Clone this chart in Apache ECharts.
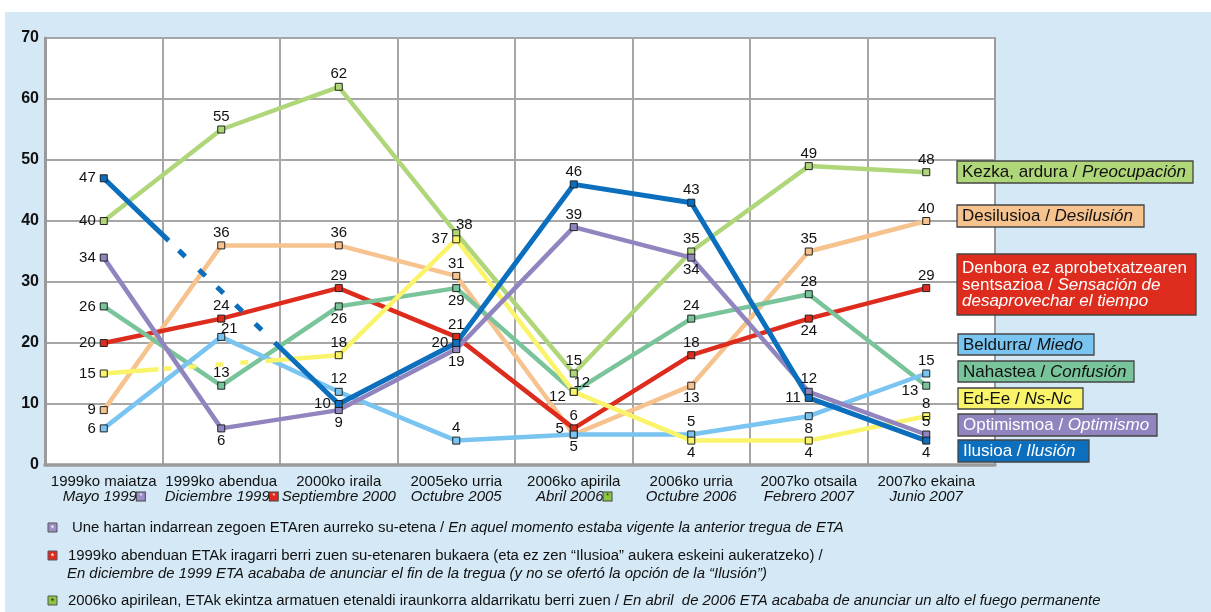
<!DOCTYPE html>
<html><head><meta charset="utf-8">
<script src="https://cdn.jsdelivr.net/npm/echarts@6/dist/echarts.min.js"></script>
<style>html,body{margin:0;padding:0;background:#fff;}#c{width:1211px;height:612px;}</style>
</head><body><div id="c"></div>
<script>
// ---------- DATA ----------
const categoriesEu = ['1999ko maiatza','1999ko abendua','2000ko iraila','2005eko urria','2006ko apirila','2006ko urria','2007ko otsaila','2007ko ekaina'];
const categoriesEs = ['Mayo 1999','Diciembre 1999','Septiembre 2000','Octubre 2005','Abril 2006','Octubre 2006','Febrero 2007','Junio 2007'];
const categoryNotes = ['m1','m2','','','m3','','',''];

const preocupacion  = [40,55,62,38,15,35,49,48];
const desilusion    = [9,36,36,31,5,13,35,40];
const desaprovechar = [20,24,29,21,6,18,24,29];
const miedo         = [6,21,12,4,5,5,8,15];
const confusion     = [26,13,26,29,12,24,28,13];
const nsnc          = [15,null,18,37,12,4,4,8];
const optimismo     = [34,6,9,19,39,34,12,5];
const ilusion       = [47,null,10,20,46,43,11,4];

const legendTexts = [
  [['n','Kezka, ardura / '],['i','Preocupación']],
  [['n','Desilusioa / '],['i','Desilusión']],
  [['n','Denbora ez aprobetxatzearen'],['br',''],['n','sentsazioa / '],['i','Sensación de'],['br',''],['i','desaprovechar el tiempo']],
  [['n','Beldurra/ '],['i','Miedo']],
  [['n','Nahastea / '],['i','Confusión']],
  [['n','Ed-Ee / '],['i','Ns-Nc']],
  [['n','Optimismoa / '],['i','Optimismo']],
  [['n','Ilusioa / '],['i','Ilusión']]
];
const footnoteTexts = [
  [['Une hartan indarrean zegoen ETAren aurreko su-etena / ','En aquel momento estaba vigente la anterior tregua de ETA']],
  [['1999ko abenduan ETAk iragarri berri zuen su-etenaren bukaera (eta ez zen “Ilusioa” aukera eskeini aukeratzeko) /','']],
  [['','En diciembre de 1999 ETA acababa de anunciar el fin de la tregua (y no se ofertó la opción de la “Ilusión”)']],
  [['2006ko apirilean, ETAk ekintza armatuen etenaldi iraunkorra aldarrikatu berri zuen / ','En abril  de 2006 ETA acababa de anunciar un alto el fuego permanente']]
];

// ---------- STYLE / LAYOUT ----------
const FONT = '"Liberation Sans", Arial, Helvetica, sans-serif';
const C = {
  preocupacion:'#b0d67a', desilusion:'#f6c28e', desaprovechar:'#dd2c1d', miedo:'#79c4f0',
  confusion:'#79c49b', nsnc:'#faf46a', optimismo:'#9184bf', ilusion:'#0b6fbe'
};
const labelPlacement = {
  preocupacion:  ['l','t','t','tr','t','t','t','t'],
  desilusion:    ['l','t','t','t','lt','b','t','t'],
  desaprovechar: ['l','t','t','t','t','t','b','t'],
  miedo:         ['l','tr','t','t','b','t','b','t'],
  confusion:     ['l','t','b','b','tr','t','t','lb'],
  nsnc:          ['l','','t','l','lb','b','b','t'],
  optimismo:     ['l','b','b','b','t','b','t','t'],
  ilusion:       ['l','','l','l','t','t','l','b']
};
const noteColors = {m1:'#9b8dc8', m2:'#e02a1e', m3:'#8cc63f'};

function lbl(code){
  switch(code){
    case 'l':  return {position:'left', distance:4};
    case 't':  return {position:'top', distance:1};
    case 'b':  return {position:'bottom', distance:1};
    case 'tr': return {position:'top', distance:1, offset:[8,4]};
    case 'lb': return {position:'left', distance:4, offset:[0,5]};
    case 'lt': return {position:'left', distance:4, offset:[-2,-6]};
  }
  return {};
}
function makeSeries(key, name, values, width){
  const color = C[key];
  return {
    type:'line', name, xAxisIndex:1, yAxisIndex:1,
    data: values.map((v,i)=> v==null ? null : {value:v, label:lbl(labelPlacement[key][i])}),
    connectNulls:false, symbol:'rect', symbolSize:7,
    lineStyle:{color, width},
    itemStyle:{color, borderColor:'#222', borderWidth:1},
    label:{show:true, fontSize:15, fontFamily:FONT, color:'#111'},
    emphasis:{disabled:true}
  };
}
function makeBridge(key, values, dash, width){
  return {
    type:'line', xAxisIndex:1, yAxisIndex:1,
    data: values.map((v,i)=> i<=2 ? v : null),
    connectNulls:true, symbol:'none', silent:true,
    lineStyle:{color:C[key], width, type:dash, cap:'butt'},
    label:{show:false}, emphasis:{disabled:true}
  };
}

const noteRich = {};
Object.keys(noteColors).forEach(k=>{
  noteRich[k] = {backgroundColor:noteColors[k], borderColor:'#444', borderWidth:1, width:8, height:8,
    fontSize:7, lineHeight:9, color: k==='m3' ? '#222' : '#fff', align:'center'};
});

// legend boxes
const legendBoxes = [
  {key:'preocupacion', x:957, y:161, w:236, h:22, fg:'#111'},
  {key:'desilusion',   x:957, y:205, w:187, h:22, fg:'#111'},
  {key:'desaprovechar',x:957, y:254, w:239, h:61, fg:'#fff'},
  {key:'miedo',        x:958, y:334, w:136, h:21, fg:'#111'},
  {key:'confusion',    x:958, y:361, w:176, h:21, fg:'#111'},
  {key:'nsnc',         x:958, y:388, w:125, h:21, fg:'#111'},
  {key:'optimismo',    x:958, y:414, w:199, h:22, fg:'#fff'},
  {key:'ilusion',      x:958, y:440, w:131, h:22, fg:'#fff'}
];
const graphics = [];
graphics.push({type:'rect', z:-100, silent:true, shape:{x:5,y:12,width:1206,height:600}, style:{fill:'#d4e8f6'}});
legendBoxes.forEach((b,idx)=>{
  const parts = legendTexts[idx];
  let txt = '';
  parts.forEach(p=>{ txt += p[0]==='br' ? '\n' : '{'+p[0]+'|'+p[1]+'}'; });
  graphics.push({type:'rect', z:100, silent:true, shape:{x:b.x,y:b.y,width:b.w,height:b.h},
    style:{fill:C[b.key], stroke:'#444', lineWidth:1.3}});
  graphics.push({type:'text', z:101, silent:true, x:b.x+5, y:b.y+b.h/2+0.5,
    style:{text:txt, fill:b.fg, fontSize:17, fontFamily:FONT, verticalAlign:'middle', textVerticalAlign:'middle',
      rich:{n:{fontSize:17, fontFamily:FONT, fill:b.fg, lineHeight:16.5},
            i:{fontSize:17, fontFamily:FONT, fontStyle:'italic', fill:b.fg, lineHeight:16.5}}}});
});
// footnotes
const FN = 14.9;
const footLayout = [
  {x:72, y:528, note:'m1'},
  {x:68, y:556, note:'m2'},
  {x:67, y:574, note:''},
  {x:68, y:601, note:'m3'}
];
footLayout.forEach((f,idx)=>{
  const [n,it] = footnoteTexts[idx][0];
  let txt = (n ? '{n|'+n+'}' : '') + (it ? '{i|'+it+'}' : '');
  graphics.push({type:'text', silent:true, x:f.x, y:f.y,
    style:{text:txt, fill:'#111', fontSize:FN, fontFamily:FONT, verticalAlign:'middle', textVerticalAlign:'middle',
      rich:{n:{fontSize:FN, fontFamily:FONT, fill:'#111'}, i:{fontSize:FN, fontFamily:FONT, fontStyle:'italic', fill:'#111'}}}});
  if (f.note){
    graphics.push({type:'rect', silent:true, shape:{x:48,y:f.y-5,width:9,height:9},
      style:{fill:noteColors[f.note], stroke:'#555', lineWidth:1}});
    graphics.push({type:'text', silent:true, x:52.5, y:f.y+1,
      style:{text:'*', fill: f.note==='m3' ? '#222' : '#fff', fontSize:9, fontFamily:FONT, align:'center', textAlign:'center', verticalAlign:'middle', textVerticalAlign:'middle'}});
  }
});

const chart = echarts.init(document.getElementById('c'), null, {renderer:'canvas'});
chart.setOption({
  animation:false,
  backgroundColor:'#fff',
  textStyle:{fontFamily:FONT},
  grid:[
    {left:45, top:38, width:950, height:427, show:true, backgroundColor:'#fff', borderColor:'#9a9a9a', borderWidth:2},
    {left:45, top:38, width:940, height:427}
  ],
  xAxis:[
    {gridIndex:0, type:'value', min:0, max:1, axisLine:{show:true, onZero:false, lineStyle:{color:'#9a9a9a', width:3.5}},
      axisTick:{show:false}, axisLabel:{show:false}, splitLine:{show:false}},
    {gridIndex:1, type:'category', data:categoriesEu, boundaryGap:true,
      axisLine:{show:false}, axisTick:{show:false},
      splitLine:{show:true, showMinLine:false, showMaxLine:false, lineStyle:{color:'#a6a6a6', width:2}},
      axisLabel:{interval:0, margin:9, color:'#111',
        formatter:(v,i)=> '{a|'+categoriesEu[i]+'}\n{b|'+categoriesEs[i]+'}' + (categoryNotes[i] ? '{'+categoryNotes[i]+'|*}' : ''),
        rich:Object.assign({a:{fontSize:15, lineHeight:15, fontFamily:FONT, color:'#111'},
                            b:{fontSize:15, lineHeight:15, fontFamily:FONT, fontStyle:'italic', color:'#111'}}, noteRich)}}
  ],
  yAxis:[
    {gridIndex:0, type:'value', min:0, max:70, interval:10,
      axisLine:{show:true, lineStyle:{color:'#9a9a9a', width:3}}, axisTick:{show:false},
      axisLabel:{fontSize:16, fontWeight:'bold', color:'#111', margin:6, fontFamily:FONT},
      splitLine:{show:true, lineStyle:{color:'#a6a6a6', width:2}}},
    {gridIndex:1, type:'value', min:0, max:70, interval:10, show:false, splitLine:{show:false}}
  ],
  graphic:graphics,
  series:[
    makeSeries('preocupacion','Kezka, ardura / Preocupación', preocupacion, 4.5),
    makeSeries('desilusion','Desilusioa / Desilusión', desilusion, 4.5),
    makeSeries('desaprovechar','Denbora ez aprobetxatzearen sentsazioa', desaprovechar, 4.5),
    makeSeries('confusion','Nahastea / Confusión', confusion, 4.5),
    makeSeries('miedo','Beldurra / Miedo', miedo, 4.5),
    makeBridge('nsnc', nsnc, [55,5,8,17,8,19,8,17,8,17,400], 4.5),
    makeSeries('nsnc','Ed-Ee / Ns-Nc', nsnc, 4.5),
    makeSeries('optimismo','Optimismoa / Optimismo', optimismo, 4.5),
    makeBridge('ilusion', ilusion, [90,14,9,19,9,16,9,17,9,18,9,18,400], 5),
    makeSeries('ilusion','Ilusioa / Ilusión', ilusion, 5)
  ]
});
</script>
</body></html>
